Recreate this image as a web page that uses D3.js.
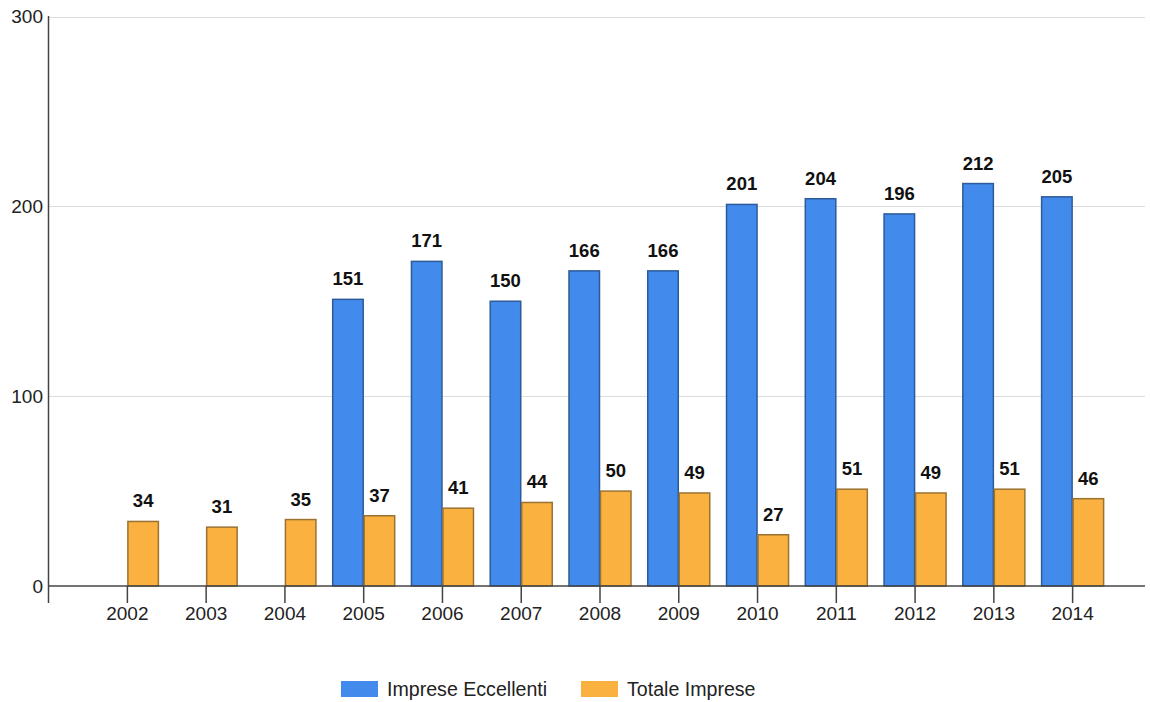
<!DOCTYPE html>
<html>
<head>
<meta charset="utf-8">
<script src="https://cdnjs.cloudflare.com/ajax/libs/d3/7.8.5/d3.min.js"></script>
<style>
  body { margin: 0; background: #fff; }
  #chart { width: 1150px; height: 702px; }
  text { font-family: "Liberation Sans", Arial, sans-serif; }
</style>
</head>
<body>
<div id="chart"></div>
<script>
const years = ['2002','2003','2004','2005','2006','2007','2008','2009','2010','2011','2012','2013','2014']
const eccellenti = [null, null, null, 151, 171, 150, 166, 166, 201, 204, 196, 212, 205]
const totale = [34, 31, 35, 37, 41, 44, 50, 49, 27, 51, 49, 51, 46]
const seriesNames = ['Imprese Eccellenti', 'Totale Imprese']
const yTicks = [0, 100, 200, 300]

const colors = ['#428bec', '#fab140']
const strokes = ['#2d5a99', '#9a7332']

const width = 1150, height = 702
const svg = d3.select('#chart').append('svg')
  .attr('width', width)
  .attr('height', height)

const axisX = 48.5, plotRight = 1145

const x = d3.scaleBand().domain(years).range([88, 1112]).padding(0)
const xs = d3.scaleBand().domain([0, 1]).range([0, x.bandwidth()]).paddingOuter(0.25).paddingInner(0)
const y = d3.scaleLinear().domain([0, 300]).range([586, 16.5])

// grid
svg.append('g').selectAll('line')
  .data(yTicks.filter(d => d > 0))
  .join('line')
  .attr('x1', axisX).attr('x2', plotRight)
  .attr('y1', d => Math.round(y(d)) + 0.5).attr('y2', d => Math.round(y(d)) + 0.5)
  .attr('stroke', '#dcdcdc').attr('stroke-width', 1)

// y tick labels
svg.append('g').selectAll('text')
  .data(yTicks)
  .join('text')
  .attr('x', 43)
  .attr('y', d => y(d))
  .attr('dy', '0.35em')
  .attr('text-anchor', 'end')
  .attr('font-size', 19)
  .attr('fill', '#222')
  .text(d => d)

// bars
const data = years.map((yr, i) => ({ year: yr, vals: [eccellenti[i], totale[i]] }))
const groups = svg.append('g').selectAll('g')
  .data(data)
  .join('g')
  .attr('transform', d => `translate(${x(d.year)},0)`)

groups.selectAll('rect')
  .data(d => d.vals.map((v, k) => ({ v, k })).filter(e => e.v != null))
  .join('rect')
  .attr('x', e => xs(e.k) + 0.5)
  .attr('width', xs.bandwidth() - 1)
  .attr('y', e => y(e.v))
  .attr('height', e => y(0) - y(e.v))
  .attr('fill', e => colors[e.k])
  .attr('stroke', e => strokes[e.k])
  .attr('stroke-width', 1.5)

groups.selectAll('text')
  .data(d => d.vals.map((v, k) => ({ v, k })).filter(e => e.v != null))
  .join('text')
  .attr('x', e => xs(e.k) + xs.bandwidth() / 2)
  .attr('y', e => y(e.v) - 14)
  .attr('text-anchor', 'middle')
  .attr('font-size', 18.5)
  .attr('font-weight', 'bold')
  .attr('fill', '#111')
  .text(e => e.v)

// axes
svg.append('line')
  .attr('x1', axisX).attr('x2', plotRight)
  .attr('y1', 586).attr('y2', 586)
  .attr('stroke', '#444').attr('stroke-width', 1.5)
svg.append('line')
  .attr('x1', axisX).attr('x2', axisX)
  .attr('y1', 16).attr('y2', 603)
  .attr('stroke', '#444').attr('stroke-width', 1.5)

svg.append('g').selectAll('line')
  .data(years)
  .join('line')
  .attr('x1', d => x(d) + x.bandwidth() / 2).attr('x2', d => x(d) + x.bandwidth() / 2)
  .attr('y1', 586).attr('y2', 603)
  .attr('stroke', '#444').attr('stroke-width', 1.5)

svg.append('g').selectAll('text')
  .data(years)
  .join('text')
  .attr('x', d => x(d) + x.bandwidth() / 2)
  .attr('y', 620)
  .attr('text-anchor', 'middle')
  .attr('font-size', 19)
  .attr('fill', '#222')
  .text(d => d)

// legend
const legendX = [341, 581]
const legend = svg.append('g').selectAll('g')
  .data(seriesNames)
  .join('g')
  .attr('transform', (d, i) => `translate(${legendX[i]},681)`)
legend.append('rect')
  .attr('width', 37).attr('height', 16)
  .attr('fill', (d, i) => colors[i])
legend.append('text')
  .attr('x', 46).attr('y', 8).attr('dy', '0.35em')
  .attr('font-size', 19.6)
  .attr('fill', '#222')
  .text(d => d)
</script>
</body>
</html>
